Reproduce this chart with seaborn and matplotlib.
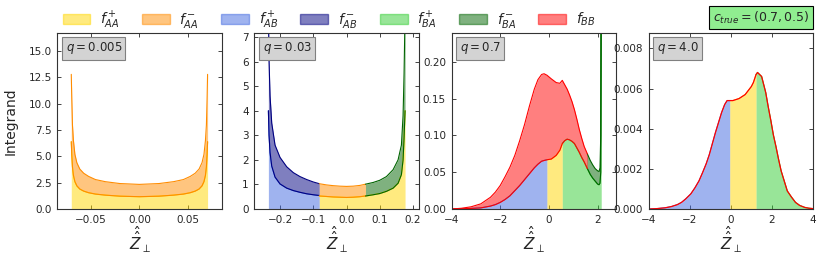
import matplotlib
matplotlib.use("Agg")
import matplotlib.pyplot as plt
from matplotlib.patches import Patch
import numpy as np
import seaborn as sns

# q = 0.005 : only f_AA+ / f_AA-
x1 = [-0.0697, -0.0692, -0.0685, -0.0675, -0.066, -0.064, -0.061, -0.057, -0.052, -0.045, -0.035, -0.02, 0.0,
      0.02, 0.035, 0.045, 0.052, 0.057, 0.061, 0.064, 0.066, 0.0675, 0.0685, 0.0692, 0.0697]
aa_plus_1 = [6.4, 5.2, 4.0, 3.2, 2.6, 2.2, 1.9, 1.7, 1.55, 1.42, 1.32, 1.22, 1.17,
             1.22, 1.32, 1.42, 1.55, 1.7, 1.9, 2.2, 2.6, 3.2, 4.0, 5.2, 6.4]
aa_minus_1 = [6.4, 5.3, 4.0, 3.3, 2.6, 2.2, 1.9, 1.7, 1.55, 1.38, 1.28, 1.2, 1.17,
              1.2, 1.28, 1.38, 1.55, 1.7, 1.9, 2.2, 2.6, 3.3, 4.0, 5.3, 6.4]

# q = 0.03
x2_ab = [-0.235, -0.233, -0.23, -0.225, -0.215, -0.2, -0.18, -0.16, -0.14, -0.12, -0.1, -0.082]
ab_plus_2 = [4.0, 3.0, 2.3, 1.75, 1.3, 1.02, 0.85, 0.75, 0.68, 0.62, 0.58, 0.55]
ab_minus_2 = [4.0, 3.0, 2.3, 1.75, 1.3, 1.08, 0.87, 0.73, 0.64, 0.58, 0.52, 0.48]
x2_aa = [-0.082, -0.06, -0.04, -0.02, 0.0, 0.02, 0.04, 0.057, 0.08, 0.1, 0.12, 0.14, 0.155, 0.165, 0.17, 0.173, 0.176]
aa_plus_2 = [0.53, 0.51, 0.49, 0.48, 0.47, 0.48, 0.50, 0.53, 0.58, 0.63, 0.72, 0.85, 1.05, 1.4, 2.0, 2.9, 4.0]
aa_minus_2 = [0.50, 0.47, 0.46, 0.45, 0.45, 0.45, 0.46, 0.48]          # first 8 points of x2_aa
ba_minus_2 = [0.48, 0.5, 0.54, 0.6, 0.75, 0.95, 1.2, 1.8, 2.6, 4.0]   # last 10 points of x2_aa

# q = 0.7
x3_ab = [-4.0, -3.6, -3.2, -2.8, -2.4, -2.2, -2.0, -1.8, -1.6, -1.4, -1.2, -1.0, -0.8, -0.6, -0.45, -0.3, -0.2, -0.08]
ab_plus_3 = [0.0, 0.0003, 0.0008, 0.0015, 0.004, 0.006, 0.009, 0.013, 0.018, 0.025, 0.032, 0.040,
             0.048, 0.056, 0.061, 0.065, 0.066, 0.067]
x3_aa = [-0.08, 0.1, 0.3, 0.45, 0.55]
aa_plus_3 = [0.067, 0.068, 0.073, 0.080, 0.089]
x3_ba = [0.55, 0.65, 0.75, 0.85, 0.95, 1.05, 1.15, 1.25, 1.35, 1.45, 1.58,
         1.7, 1.8, 1.9, 2.0, 2.06, 2.1, 2.13, 2.15]
ba_plus_3 = [0.089, 0.093, 0.095, 0.094, 0.092, 0.089, 0.083, 0.077, 0.070, 0.064, 0.055,
             0.047, 0.042, 0.038, 0.034, 0.033, 0.035, 0.05, 0.25]
ba_minus_3 = [0.020, 0.019, 0.018, 0.017, 0.018, 0.018, 0.021, 0.05, 0.25]   # from x = 1.58 on
bb_3 = [0.0, 0.0007, 0.0022, 0.0055, 0.012, 0.017, 0.023, 0.031, 0.039, 0.048, 0.061, 0.075,
        0.092, 0.107, 0.115, 0.118, 0.118, 0.115,
        0.109, 0.099, 0.091, 0.086,
        0.076, 0.068, 0.061, 0.054, 0.046, 0.039, 0.031, 0.026, 0.021, 0.020]

# q = 4.0
x4_ab = [-4.0, -3.6, -3.2, -2.9, -2.6, -2.4, -2.2, -1.95, -1.75, -1.55, -1.38, -1.2, -1.05, -0.9,
         -0.75, -0.6, -0.45, -0.3, -0.18, -0.05]
ab_plus_4 = [0.0, 0.00002, 0.00006, 0.00012, 0.00022, 0.00033, 0.0005, 0.00075, 0.00105, 0.0014,
             0.0018, 0.00225, 0.0027, 0.00325, 0.0038, 0.0043, 0.0048, 0.0052, 0.0054, 0.0054]
x4_aa = [-0.05, 0.1, 0.25, 0.4, 0.55, 0.7, 0.85, 1.0, 1.1, 1.23]
aa_plus_4 = [0.0054, 0.0054, 0.00545, 0.0055, 0.0056, 0.0057, 0.0059, 0.0061, 0.0063, 0.0067]
x4_ba = [1.23, 1.3, 1.4, 1.5, 1.6, 1.7, 1.82, 1.95, 2.07, 2.2, 2.32, 2.45, 2.6, 2.75, 2.95, 3.15,
         3.35, 3.6, 3.8, 4.0]
ba_plus_4 = [0.0067, 0.0068, 0.0067, 0.0066, 0.0062, 0.0058, 0.0051, 0.0044, 0.0037, 0.0031, 0.0025,
             0.0019, 0.0014, 0.0009, 0.0006, 0.00033, 0.00018, 0.00008, 0.00004, 0.00002]

q_labels = ["$q = 0.005$", "$q = 0.03$", "$q = 0.7$", "$q = 4.0$"]
legend_labels = ["$f^+_{AA}$", "$f^-_{AA}$", "$f^+_{AB}$", "$f^-_{AB}$", "$f^+_{BA}$", "$f^-_{BA}$", "$f_{BB}$"]
colors = ["gold", "darkorange", "royalblue", "navy", "limegreen", "darkgreen", "red"]
col = dict(zip(["aap", "aam", "abp", "abm", "bap", "bam", "bb"], colors))

sns.set_style("ticks")
plt.rcParams["font.family"] = ["DejaVu Sans"]
plt.rcParams["mathtext.fontset"] = "dejavusans"


def band(ax, x, lo, vals, c, lower_line=True):
    x = np.asarray(x, float)
    lo = np.asarray(lo, float)
    hi = lo + np.asarray(vals, float)
    ax.fill_between(x, lo, hi, color=c, alpha=0.5, lw=0)
    if lower_line:
        sns.lineplot(x=x, y=lo, ax=ax, color=c, lw=0.8, estimator=None, sort=False)
    sns.lineplot(x=x, y=hi, ax=ax, color=c, lw=0.8, estimator=None, sort=False)
    return hi


fig, axes = plt.subplots(1, 4, figsize=(8.22, 2.59), dpi=100)
plt.subplots_adjust(left=0.0697, right=0.989, top=0.8714, bottom=0.193, wspace=0.2)

# panel 1
ax = axes[0]
h = band(ax, x1, np.zeros(len(x1)), aa_plus_1, col["aap"], lower_line=False)
band(ax, x1, h, aa_minus_1, col["aam"])
ax.set_xlim(-0.084, 0.084)
ax.set_ylim(0, 16.7)
ax.set_xticks([-0.05, 0.0, 0.05])

# panel 2
ax = axes[1]
h = band(ax, x2_ab, np.zeros(len(x2_ab)), ab_plus_2, col["abp"], lower_line=False)
band(ax, x2_ab, h, ab_minus_2, col["abm"])
h = band(ax, x2_aa, np.zeros(len(x2_aa)), aa_plus_2, col["aap"], lower_line=False)
band(ax, x2_aa[:8], h[:8], aa_minus_2, col["aam"])
band(ax, x2_aa[7:], h[7:], ba_minus_2, col["bam"])
ax.set_xlim(-0.277, 0.217)
ax.set_ylim(0, 7.15)
ax.set_xticks([-0.2, -0.1, 0.0, 0.1, 0.2])

# panel 3
ax = axes[2]
h1 = band(ax, x3_ab, np.zeros(len(x3_ab)), ab_plus_3, col["abp"], lower_line=False)
h2 = band(ax, x3_aa, np.zeros(len(x3_aa)), aa_plus_3, col["aap"], lower_line=False)
h3 = band(ax, x3_ba, np.zeros(len(x3_ba)), ba_plus_3, col["bap"], lower_line=False)
band(ax, x3_ba[10:], h3[10:], ba_minus_3, col["bam"])
x_bb = list(x3_ab) + list(x3_aa[1:]) + list(x3_ba[1:11])
lo_bb = list(h1) + list(h2[1:]) + list(h3[1:11])
band(ax, x_bb, lo_bb, bb_3, col["bb"])
ax.set_xlim(-4, 2.75)
ax.set_ylim(0, 0.239)
ax.set_xticks([-4, -2, 0, 2])

# panel 4
ax = axes[3]
h1 = band(ax, x4_ab, np.zeros(len(x4_ab)), ab_plus_4, col["abp"], lower_line=False)
h2 = band(ax, x4_aa, np.zeros(len(x4_aa)), aa_plus_4, col["aap"], lower_line=False)
h3 = band(ax, x4_ba, np.zeros(len(x4_ba)), ba_plus_4, col["bap"], lower_line=False)
sns.lineplot(x=list(x4_ab) + list(x4_aa[1:]) + list(x4_ba[1:]),
             y=list(h1) + list(h2[1:]) + list(h3[1:]),
             ax=ax, color=col["bb"], lw=0.9, estimator=None, sort=False)
ax.set_xlim(-4, 4)
ax.set_ylim(0, 0.00875)
ax.set_xticks([-4, -2, 0, 2, 4])

for ax, ql in zip(axes, q_labels):
    ax.tick_params(direction="in", top=True, right=True, labelsize=7.5, length=3, width=0.6, pad=4)
    for s in ax.spines.values():
        s.set_linewidth(0.8)
        s.set_color("#333333")
    ax.set_xlabel(r"$\hat{\hat{Z}}_\perp$", fontsize=11, labelpad=0)
    ax.set_ylabel("")
    ax.text(0.05, 0.96, ql, transform=ax.transAxes, ha="left", va="top", fontsize=8.5,
            bbox=dict(boxstyle="square,pad=0.3", fc="lightgray", ec="gray", lw=0.8))

axes[0].set_ylabel("Integrand", fontsize=10, labelpad=8)

handles = [Patch(color=c, alpha=0.5) for c in colors]
fig.legend(handles, legend_labels, loc="upper left", bbox_to_anchor=(0.061, 1.012), ncol=7,
           frameon=False, fontsize=10, handlelength=2.0, handletextpad=0.7, columnspacing=1.6)

fig.text(0.9845, 0.932, "$c_{true} = (0.7, 0.5)$", ha="right", va="center", fontsize=9,
         bbox=dict(boxstyle="square,pad=0.3", fc="lightgreen", ec="black", lw=0.8))

fig.savefig("out.png", dpi=100)
